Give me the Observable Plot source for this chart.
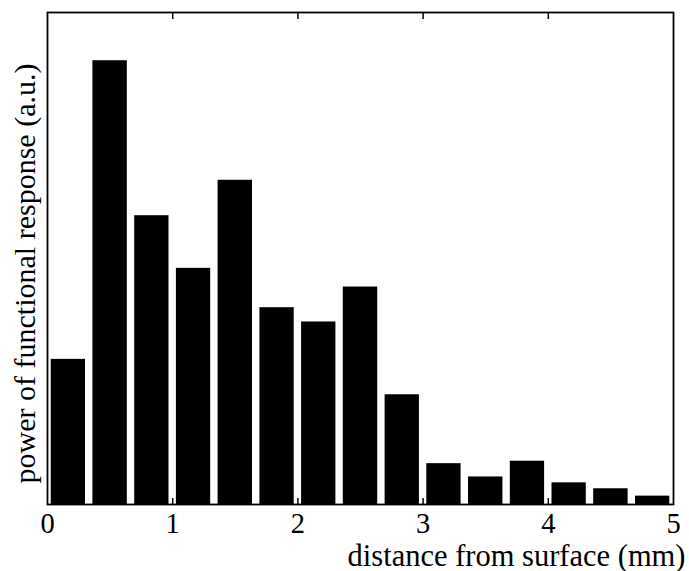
<!DOCTYPE html>
<html>
<head>
<meta charset="utf-8">
<script src="https://cdn.jsdelivr.net/npm/d3@7"></script>
<script src="https://cdn.jsdelivr.net/npm/@observablehq/plot@0.6"></script>
<style>
  html, body { margin: 0; padding: 0; background: #fff; }
  #chart svg { display: block; }
</style>
</head>
<body>
<div id="chart"></div>
<script>
// Histogram bin edges (mm) and bar values (arbitrary units)
const binEdges = [0, 0.333, 0.667, 1.0, 1.333, 1.667, 2.0, 2.333, 2.667, 3.0, 3.333, 3.667, 4.0, 4.333, 4.667, 5.0];
const power = [0.295, 0.902, 0.587, 0.480, 0.659, 0.400, 0.371, 0.442, 0.223, 0.083, 0.056, 0.088, 0.044, 0.032, 0.017];
const xTickLabels = [0, 1, 2, 3, 4, 5];
const innerTicks = [1, 2, 3, 4];
const xLabel = "distance from surface (mm)";
const yLabel = "power of functional response (a.u.)";

const bars = power.map((v, i) => ({x1: binEdges[i], x2: binEdges[i + 1], v}));

const font = "'Liberation Serif', 'Times New Roman', serif";

const chart = Plot.plot({
  width: 689,
  height: 571,
  marginTop: 12,
  marginLeft: 47,
  marginRight: 16,
  marginBottom: 67,
  style: {fontFamily: font, background: "#fff", color: "#000"},
  x: {domain: [0, 5]},
  y: {domain: [0, 1], axis: null},
  marks: [
    Plot.rectY(bars, {x1: "x1", x2: "x2", y: "v", fill: "#000", insetLeft: 3.7, insetRight: 3.7}),
    Plot.axisX({anchor: "bottom", ticks: xTickLabels, tickFormat: d3.format("d"), tickSize: 0, tickPadding: 8, fontSize: 28.5, label: null, fill: "#000"}),
    Plot.axisX({anchor: "bottom", ticks: innerTicks, tickSize: -6, tickFormat: () => "", label: null, stroke: "#000", strokeWidth: 1.5}),
    Plot.axisX({anchor: "top", ticks: innerTicks, tickSize: -6, tickFormat: () => "", label: null, stroke: "#000", strokeWidth: 1.5}),
    Plot.frame({stroke: "#000", strokeWidth: 1.8}),
    Plot.text([xLabel], {text: d => d, frameAnchor: "bottom-right", textAnchor: "end", dx: 12, dy: 61, fontSize: 30.5, fill: "#000"}),
    Plot.text([yLabel], {text: d => d, frameAnchor: "left", textAnchor: "middle", rotate: -90, dx: -22, dy: 15, fontSize: 30, fill: "#000"})
  ]
});
document.getElementById("chart").appendChild(chart);
</script>
</body>
</html>
